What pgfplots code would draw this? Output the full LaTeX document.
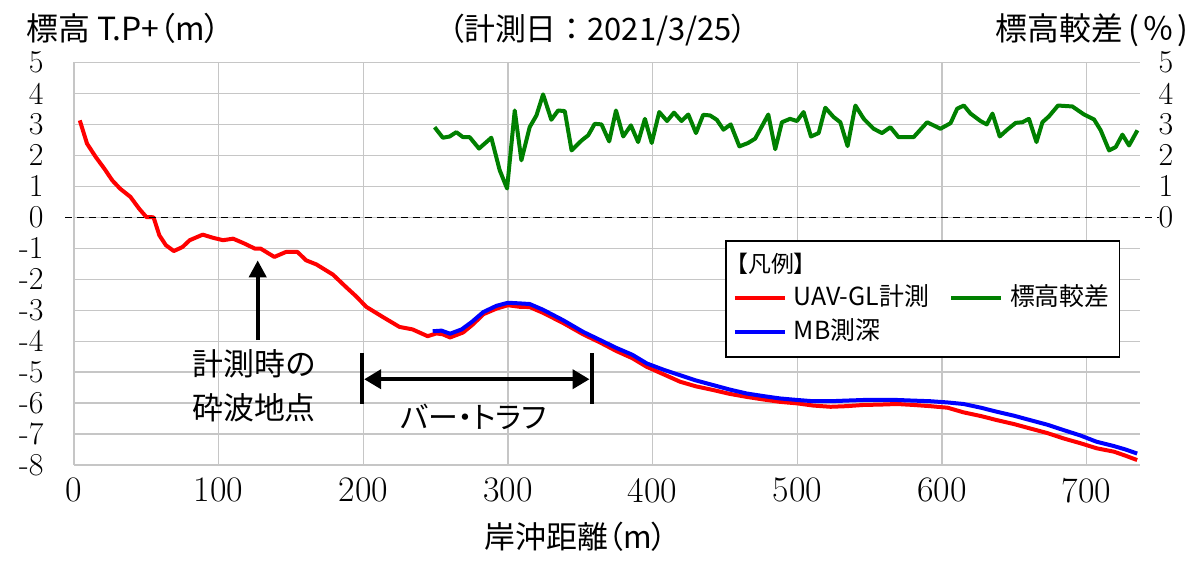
\documentclass[border=0pt]{standalone}
\usepackage{fontspec}
\usepackage{pgfplots}
\pgfplotsset{compat=1.18}
\usetikzlibrary{arrows.meta}
\newfontfamily\cjk[RawFeature=+palt]{Noto Sans CJK JP}
\newfontfamily\cjkn{Noto Sans CJK JP}
\definecolor{cred}{RGB}{255,0,0}
\definecolor{cblue}{RGB}{0,0,255}
\definecolor{cgreen}{RGB}{0,128,0}
\begin{document}
\begin{tikzpicture}
\path[use as bounding box] (0,0) rectangle (1198bp,563bp);
\begin{axis}[
  at={(74bp,98bp)}, anchor=south west, scale only axis,
  width=1066bp, height=402.5bp,
  xmin=0, xmax=737, ymin=-8, ymax=5,
  xtick={0,100,...,700}, ytick={-8,-7,...,5},
  xticklabels={0,100,200,300,400,500,600,700},
  yticklabels={-8,-7,-6,-5,-4,-3,-2,-1,0,1,2,3,4,5},
  grid=major, major grid style={draw=gray!45, line width=1.3bp},
  axis line style={draw=none}, tick style={draw=none}, major tick length=0pt,
  xticklabel style={font=\fontsize{36}{36}\selectfont, yshift=-9.5bp},
  yticklabel style={font=\fontsize{32}{32}\selectfont, xshift=-27bp},
  clip=false,
  legend columns=2, legend cell align=left,
  legend image code/.code={\path[draw=none, fill=none] (0bp,-17bp) rectangle (50bp,17bp); \draw[#1] (0bp,0bp) -- (50bp,0bp);},
  legend style={
    at={(0.6107,0.559)}, anchor=north west,
    draw=black, line width=1.6bp, fill=white,
    inner xsep=7bp, inner ysep=8bp,
    font=\cjk\fontsize{25}{30}\selectfont,
    nodes={inner xsep=0pt, inner ysep=0pt, text height=24bp, text depth=8bp},
    row 1/.style={nodes={text height=34bp, text depth=20bp}},
    /tikz/every odd column/.append style={column sep=7bp},
    /tikz/every even column/.append style={column sep=20bp},
  },
]
\addlegendimage{empty legend}
\addlegendentry{\hspace*{-57bp}\fontsize{23}{28}\selectfont【凡例】}
\addlegendimage{empty legend}
\addlegendentry{}
\addplot[cred, line width=4bp, line join=round] coordinates {
(4,3.13) (9,2.38) (15,1.95) (21,1.57) (26.5,1.19) (32,0.92) (39,0.66) (45,0.28)
(50,0.01) (55,0.0) (59,-0.58) (63.5,-0.9) (69,-1.09) (75,-0.96) (80,-0.74) (89,-0.56)
(96,-0.66) (103,-0.74) (110,-0.69) (117,-0.83) (125,-1.01) (129,-1.01) (138.5,-1.28)
(146.5,-1.12) (154.5,-1.12) (160.5,-1.39) (167.5,-1.52) (179,-1.85) (188,-2.25)
(195,-2.55) (202,-2.89) (213.5,-3.22) (225,-3.54) (234,-3.62) (244.5,-3.84)
(250.5,-3.75) (255,-3.78) (260,-3.88) (269,-3.72) (276,-3.45) (283,-3.13) (292,-2.95)
(300,-2.84) (308,-2.89) (315,-2.90) (324,-3.08) (338,-3.41) (352,-3.78) (364,-4.05)
(375,-4.32) (386,-4.55) (396,-4.83) (408,-5.08) (419,-5.31) (430,-5.46) (442,-5.58)
(453,-5.70) (465,-5.80) (476,-5.88) (488,-5.96) (500,-6.01) (511,-6.08) (523,-6.12)
(534,-6.10) (546,-6.06) (557,-6.05) (569,-6.03) (580,-6.06) (592,-6.10) (604,-6.15)
(615,-6.30) (627,-6.42) (638,-6.55) (650,-6.68) (661,-6.82) (673,-6.97) (684,-7.14)
(696,-7.30) (707,-7.46) (719,-7.57) (727,-7.70) (735,-7.84)
};
\addlegendentry{UAV-GL計測}
\addplot[cgreen, line width=4bp, line join=round] coordinates {
(249.3,2.91) (255,2.57) (259.7,2.61) (264.3,2.75) (268.9,2.59) (273.5,2.59) (280,2.22)
(288.5,2.57) (294.3,1.52) (299.4,0.93) (304.7,3.45) (309.3,1.84) (315,2.91) (319.7,3.29)
(324.3,3.97) (330,3.15) (334.7,3.45) (339.3,3.43) (344,2.16) (350.9,2.48) (355.5,2.65)
(360,3.02) (364.7,3.0) (370,2.45) (374.7,3.45) (379.7,2.61) (385,2.97) (390,2.43)
(394.7,3.18) (399.4,2.40) (404.6,3.40) (410,3.11) (414.8,3.38) (420,3.11) (424.7,3.32)
(430,2.72) (435,3.31) (439.7,3.29) (444.4,3.15) (449,2.83) (454,3.0) (460,2.29)
(466,2.40) (470.9,2.54) (480,3.32) (484.8,2.2) (489.4,3.07) (495,3.18) (499.8,3.11)
(504.4,3.40) (509.5,2.61) (514.8,2.72) (519.4,3.54) (525.1,3.24) (529.8,3.07)
(534.8,2.30) (540.2,3.61) (546,3.18) (552.8,2.86) (558.6,2.72) (564.4,2.91) (570,2.59)
(580.5,2.59) (589.8,3.07) (599,2.86) (606,3.04) (610.6,3.51) (615.2,3.61) (619.8,3.35)
(626.7,3.11) (631,3.0) (635,3.35) (640,2.61) (645.2,2.83) (651,3.05) (655.6,3.07)
(660.2,3.18) (665.4,2.43) (669.5,3.07) (674,3.26) (680.3,3.61) (690.2,3.58) (698.3,3.32)
(705.2,3.16) (709.8,2.81) (715.6,2.16) (720.2,2.27) (724.8,2.67) (729.4,2.32) (735.2,2.81)
};
\addlegendentry{標高較差\hspace*{3bp}}
\addplot[cblue, line width=4bp, line join=round] coordinates {
(248,-3.68) (254,-3.66) (260,-3.76) (268,-3.62) (275,-3.38) (283,-3.06) (292,-2.86)
(300,-2.76) (308,-2.78) (315,-2.80) (324,-2.98) (338,-3.32) (352,-3.70) (364,-3.97)
(375,-4.22) (386,-4.44) (396,-4.72) (408,-4.93) (419,-5.10) (430,-5.27) (442,-5.42)
(453,-5.56) (465,-5.69) (476,-5.77) (488,-5.85) (500,-5.90) (511,-5.94) (523,-5.94)
(534,-5.92) (546,-5.90) (557,-5.90) (569,-5.90) (580,-5.92) (592,-5.94) (604,-5.98)
(615,-6.03) (627,-6.15) (638,-6.28) (650,-6.41) (661,-6.55) (673,-6.70) (684,-6.87)
(696,-7.05) (707,-7.25) (719,-7.39) (727,-7.50) (735,-7.63)
};
\addlegendentry{MB測深}
\draw[black, line width=1.3bp, dash pattern=on 7bp off 5bp] (axis cs:-6,0) -- (axis cs:750,0);
\draw[line width=4bp, -{Triangle[length=17bp,width=17bp]}] (axis cs:127,-3.97) -- (axis cs:127,-1.39);
\node[font=\cjk\fontsize{31}{44}\selectfont, align=center] at (axis cs:124.5,-5.44) {計測時の\\砕波地点};
\draw[line width=4.5bp] (axis cs:199,-4.39) -- (axis cs:199,-6.03);
\draw[line width=4.5bp] (axis cs:358,-4.39) -- (axis cs:358,-6.03);
\draw[line width=4bp, {Triangle[length=17bp,width=19bp]}-{Triangle[length=17bp,width=19bp]}] (axis cs:200.6,-5.23) -- (axis cs:356.4,-5.23);
\node[font=\cjk\fontsize{30}{36}\selectfont] at (axis cs:276,-6.45) {バー・トラフ};
\end{axis}
\begin{axis}[
  at={(74bp,98bp)}, anchor=south west, scale only axis,
  width=1066bp, height=402.5bp,
  xmin=0, xmax=737, ymin=-8, ymax=5,
  hide x axis, axis y line*=right,
  axis line style={draw=none}, tick style={draw=none}, major tick length=0pt,
  ytick={0,1,...,5}, yticklabels={0,1,2,3,4,5},
  yticklabel style={font=\fontsize{32}{32}\selectfont, xshift=15bp},
]
\addplot[draw=none] coordinates {(0,0)};
\end{axis}
\node[anchor=base west, font=\cjk\fontsize{32}{36}\selectfont] at (23bp,522bp) {標高 T.P+（m）};
\node[anchor=base, font=\cjk\fontsize{31}{36}\selectfont] at (598bp,522bp) {（計測日{\cjkn ：}2021/3/25）};
\node[anchor=base east, inner sep=0pt, font=\cjkn\fontsize{32}{36}\selectfont] at (1188bp,522bp) {標高較差\hspace{5bp}(\hspace{3bp}％\hspace{3bp})};
\node[anchor=base, font=\cjk\fontsize{31}{36}\selectfont] at (576bp,14.4bp) {岸沖距離（m）};
\end{tikzpicture}
\end{document}
